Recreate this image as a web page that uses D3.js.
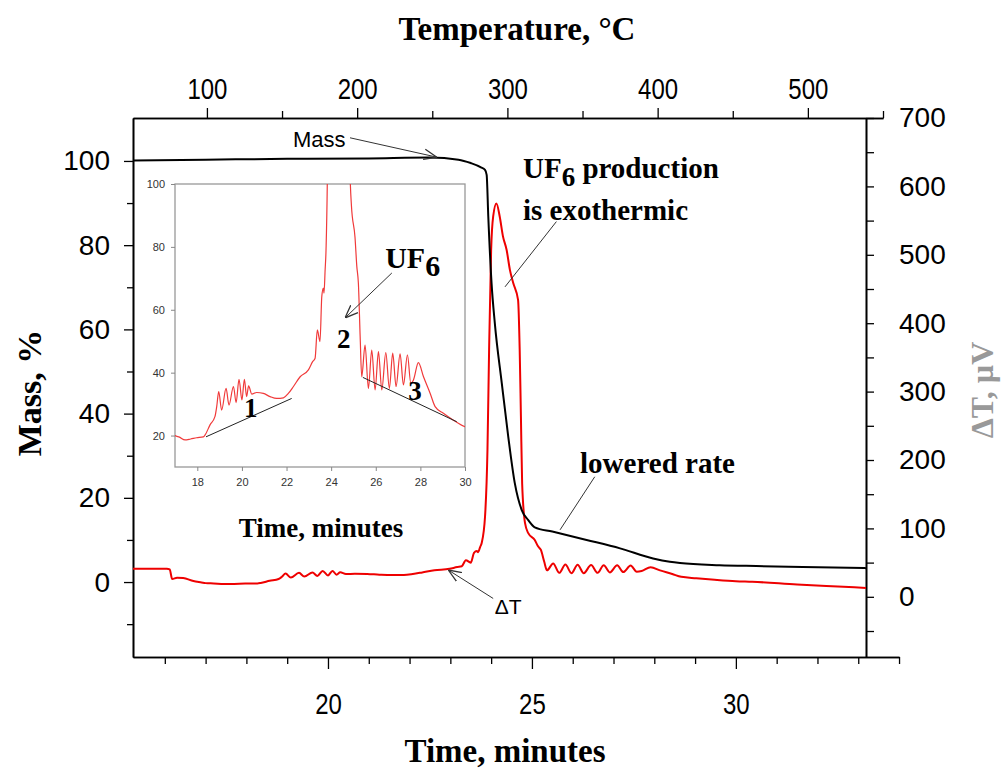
<!DOCTYPE html>
<html><head><meta charset="utf-8">
<script src="https://cdn.jsdelivr.net/npm/d3@7"></script>
<style>body{margin:0;background:#fff}</style>
</head><body>
<svg id="c" width="1004" height="768"></svg>
<script>
// ---- data (time in minutes) ----
const dtTime=[15.22,16.05,16.12,16.18,16.3,16.45,16.7,16.9,17.0,17.2,17.45,17.7,17.97,18.27,18.35,18.57,18.79,18.87,18.96,19.09,19.29,19.42,19.62,19.74,19.87,20.0,20.11,20.21,20.3,20.44,20.66,20.96,21.26,21.56,21.86,22.08,22.31,22.61,22.98,23.17,23.28,23.38,23.5,23.58,23.65,23.68,23.73,23.77,23.85,23.91,23.95,24.0,24.05,24.13,24.21,24.29,24.38,24.46,24.54,24.66,24.7,24.73,24.76,24.83,24.91,25.07,25.15,25.22,25.3,25.37,25.52,25.67,25.82,25.97,26.12,26.27,26.45,26.61,26.76,26.91,27.09,27.24,27.42,27.57,27.69,27.91,28.14,28.44,28.66,29.03,29.48,30.0,30.4,31.5,32.5,33.19];
const dtVal=[41,41,40,26,28,27.5,23,21,20,19.5,18.6,18.9,19.3,19.6,20.2,23.4,26,29.2,34,28.1,35,29.7,35.6,30.5,37.9,31.3,37.9,32.4,35.8,33.2,33.7,33.4,32.4,31.8,32,33.4,35.6,38.7,40.9,43.5,44.6,53.6,49.9,64.2,66.9,65.3,72.7,79,117,215,361,507,556,575,556,527,507,478,459,434,361,264,166,108,93,83,73.8,68.5,51.5,38.7,48.8,35,47.2,34.5,46.7,34.5,46.4,35,46.2,35.6,46,36.1,45.7,36.6,37.7,43.2,38.7,33.4,29.2,27.1,24.9,22.8,22,18,15,13];
const massTime=[15.22,17,19,21,22.5,23.2,23.5,23.75,23.85,23.89,23.93,24.01,24.09,24.26,24.42,24.58,24.75,24.91,25.07,25.5,26.34,27.16,27.97,28.38,28.63,29.6,30.5,31.64,33.19];
const massVal=[100.1,100.3,100.5,100.6,100.8,100.3,99.5,98.5,97.9,96.7,86.8,71,61.5,47.3,34.5,23.5,17.1,14.7,13,12,10,8,5.6,4.8,4.5,4.0,3.8,3.6,3.3];
// baselines drawn in the inset (time, µV)
const base1Time=[18.39,22.23], base1Val=[19.6,31.8];
const base3Time=[25.42,29.63], base3Val=[38.5,24.4];
// ticks
const bottomTicks=[20,25,30];
const bottomMinor=[16,17,18,19,21,22,23,24,26,27,28,29,31,32,33,34];
const topTicks=[100,200,300,400,500];
const topMinor=[150,250,350,450,550];
const leftTicks=[0,20,40,60,80,100];
const leftMinor=[-10,10,30,50,70,90];
const rightTicks=[0,100,200,300,400,500,600,700];
const rightMinor=[-50,50,150,250,350,450,550,650];
const insetXTicks=[18,20,22,24,26,28,30];
const insetYTicks=[20,40,60,80,100];

const svg=d3.select("#c");
const sans="'Liberation Sans', Arial, sans-serif", serif="'Liberation Serif','Times New Roman',serif";
const L=133,R=866,T=118,B=657;
const x=d3.scaleLinear().domain([15.22,33.19]).range([L,R]);
const xBot=d3.scaleLinear().domain([15.22,34]).range([L,x(34)]);
const xTop=d3.scaleLinear().domain([50.8,550]).range([L,883]);
const yL=d3.scaleLinear().domain([-17.8,110.2]).range([B,T]);
const yR=d3.scaleLinear().domain([-88,700]).range([B,T]);

const defs=svg.append("defs");
defs.append("marker").attr("id","arr").attr("viewBox","0 0 10 10").attr("refX",10).attr("refY",5)
  .attr("markerWidth",13).attr("markerHeight",13).attr("markerUnits","userSpaceOnUse").attr("orient","auto")
  .append("path").attr("d","M0,1 L10,5 L0,9").attr("fill","none").attr("stroke","#333").attr("stroke-width",1);

function sty(g,col){col=col||"#000";g.select(".domain").attr("stroke",col).attr("stroke-width",1.6);
  g.selectAll(".tick line").attr("stroke",col).attr("stroke-width",1.3);
  g.selectAll("text").attr("font-family",sans).attr("fill","#000");}

// bottom axis
svg.append("g").attr("transform",`translate(0,${B})`).call(d3.axisBottom(xBot).tickValues(bottomMinor).tickSize(7).tickSizeOuter(0).tickFormat("")).call(sty);
svg.append("g").attr("transform",`translate(0,${B})`).call(d3.axisBottom(xBot).tickValues(bottomTicks).tickSize(12).tickSizeOuter(0).tickPadding(24)).call(sty)
  .selectAll("text").attr("font-size",30).attr("transform","scale(0.8,1)");
// top axis
svg.append("g").attr("transform",`translate(0,${T})`).call(d3.axisTop(xTop).tickValues(topMinor).tickSize(7).tickSizeOuter(0).tickFormat("")).call(sty);
svg.append("g").attr("transform",`translate(0,${T})`).call(d3.axisTop(xTop).tickValues(topTicks).tickSize(10).tickSizeOuter(0).tickPadding(9)).call(sty)
  .selectAll("text").attr("font-size",30).attr("transform","scale(0.8,1)");
// left axis
svg.append("g").attr("transform",`translate(${L},0)`).call(d3.axisLeft(yL).tickValues(leftMinor).tickSize(6).tickSizeOuter(0).tickFormat("")).call(sty);
svg.append("g").attr("transform",`translate(${L},0)`).call(d3.axisLeft(yL).tickValues(leftTicks).tickSize(9).tickSizeOuter(0).tickPadding(14)).call(sty)
  .selectAll("text").attr("font-size",28);
// right axis
svg.append("g").attr("transform",`translate(${R},0)`).call(d3.axisRight(yR).tickValues(rightMinor).tickSize(8).tickSizeOuter(0).tickFormat("")).call(sty);
svg.append("g").attr("transform",`translate(${R},0)`).call(d3.axisRight(yR).tickValues(rightTicks).tickSize(8).tickSizeOuter(0).tickPadding(25)).call(sty)
  .selectAll("text").attr("font-size",28);

// axis titles
svg.append("text").attr("x",517).attr("y",40).attr("text-anchor","middle").attr("font-family",serif).attr("font-weight","bold").attr("font-size",33).text("Temperature, °C");
svg.append("text").attr("x",505).attr("y",762).attr("text-anchor","middle").attr("font-family",serif).attr("font-weight","bold").attr("font-size",33).text("Time, minutes");
svg.append("text").attr("transform","translate(41,393) rotate(-90)").attr("text-anchor","middle").attr("font-family",serif).attr("font-weight","bold").attr("font-size",34).text("Mass, %");
svg.append("text").attr("transform","translate(993,390) rotate(-90)").attr("text-anchor","middle").attr("font-family",serif).attr("font-weight","bold").attr("font-size",32).attr("fill","#999").text("ΔT, µV");

// main curves
defs.append("clipPath").attr("id","mainClip").append("rect").attr("x",L).attr("y",T).attr("width",R-L).attr("height",B-T);
const dtIdx=d3.range(dtTime.length), mIdx=d3.range(massTime.length);
const gm=svg.append("g").attr("clip-path","url(#mainClip)");
gm.append("path").datum(dtIdx).attr("fill","none").attr("stroke","#ee0000").attr("stroke-width",2)
  .attr("d",d3.line().x(i=>x(dtTime[i])).y(i=>yR(dtVal[i])).curve(d3.curveMonotoneX));
gm.append("path").datum(mIdx).attr("fill","none").attr("stroke","#000").attr("stroke-width",2)
  .attr("d",d3.line().x(i=>x(massTime[i])).y(i=>yL(massVal[i])).curve(d3.curveMonotoneX));

// main annotations
function lead(x1,y1,x2,y2,arrow){const l=svg.append("line").attr("x1",x1).attr("y1",y1).attr("x2",x2).attr("y2",y2).attr("stroke","#333").attr("stroke-width",1);if(arrow)l.attr("marker-end","url(#arr)");}
svg.append("text").attr("x",x(19.14)).attr("y",yL(103.3)).attr("font-family",sans).attr("font-size",22).text("Mass");
lead(x(20.54),yL(105.5),x(22.67),yL(100.9),true);
const uf=svg.append("text").attr("x",x(24.78)).attr("y",yL(96)).attr("font-family",serif).attr("font-weight","bold").attr("font-size",29);
uf.append("tspan").text("UF");
uf.append("tspan").attr("dy",8).attr("font-size",27).text("6");
uf.append("tspan").attr("dy",-8).text(" production");
svg.append("text").attr("x",x(24.78)).attr("y",yL(86)).attr("font-family",serif).attr("font-weight","bold").attr("font-size",29).text("is exothermic");
lead(x(25.6),yL(85.6),x(24.34),yL(70.1),false);
svg.append("text").attr("x",x(26.18)).attr("y",yL(25.9)).attr("font-family",serif).attr("font-weight","bold").attr("font-size",29).text("lowered rate");
lead(x(26.54),yL(25),x(25.69),yL(12.4),false);
svg.append("text").attr("x",x(24.09)).attr("y",yL(-7.6)).attr("font-family",sans).attr("font-size",21).text("ΔT");
lead(x(24.05),yL(-3.9),x(22.95),yL(2.85),true);

// inset
const ix=d3.scaleLinear().domain([17,30]).range([175,465]);
const iy=d3.scaleLinear().domain([10,100]).range([467,184]);
svg.append("rect").attr("x",175).attr("y",184).attr("width",290).attr("height",283).attr("fill","#fff").attr("stroke","#999").attr("stroke-width",1.3);
defs.append("clipPath").attr("id","insClip").append("rect").attr("x",175).attr("y",184).attr("width",290).attr("height",283);
svg.append("g").attr("clip-path","url(#insClip)").append("path").datum(dtIdx).attr("fill","none").attr("stroke","#f03a3a").attr("stroke-width",1.2)
  .attr("d",d3.line().x(i=>ix(dtTime[i])).y(i=>iy(dtVal[i])).curve(d3.curveMonotoneX));
function isty(g){g.select(".domain").remove();g.selectAll(".tick line").attr("stroke","#888");g.selectAll("text").attr("font-family",sans).attr("font-size",11).attr("fill","#333");}
svg.append("g").attr("transform","translate(0,467)").call(d3.axisBottom(ix).tickValues(insetXTicks).tickSize(4).tickPadding(7).tickSizeOuter(0)).call(isty);
svg.append("g").attr("transform","translate(175,0)").call(d3.axisLeft(iy).tickValues(insetYTicks).tickSize(4).tickPadding(6).tickSizeOuter(0)).call(isty);
svg.append("line").attr("x1",ix(base1Time[0])).attr("y1",iy(base1Val[0])).attr("x2",ix(base1Time[1])).attr("y2",iy(base1Val[1])).attr("stroke","#222").attr("stroke-width",1);
svg.append("line").attr("x1",ix(base3Time[0])).attr("y1",iy(base3Val[0])).attr("x2",ix(base3Time[1])).attr("y2",iy(base3Val[1])).attr("stroke","#222").attr("stroke-width",1);
function num(t,v,s){svg.append("text").attr("x",ix(t)).attr("y",iy(v)).attr("text-anchor","middle").attr("font-family",serif).attr("font-weight","bold").attr("font-size",27).text(s);}
num(20.4,26,"1");num(24.56,47.9,"2");num(27.76,31.4,"3");
const uf2=svg.append("text").attr("x",ix(26.42)).attr("y",iy(73.4)).attr("font-family",serif).attr("font-weight","bold").attr("font-size",30);
uf2.append("tspan").text("UF");
uf2.append("tspan").attr("dy",8).text("6");
lead(ix(26.72),iy(71.7),ix(24.62),iy(57.4),true);
svg.append("text").attr("x",321).attr("y",537).attr("text-anchor","middle").attr("font-family",serif).attr("font-weight","bold").attr("font-size",27).text("Time, minutes");
</script>
</body></html>
